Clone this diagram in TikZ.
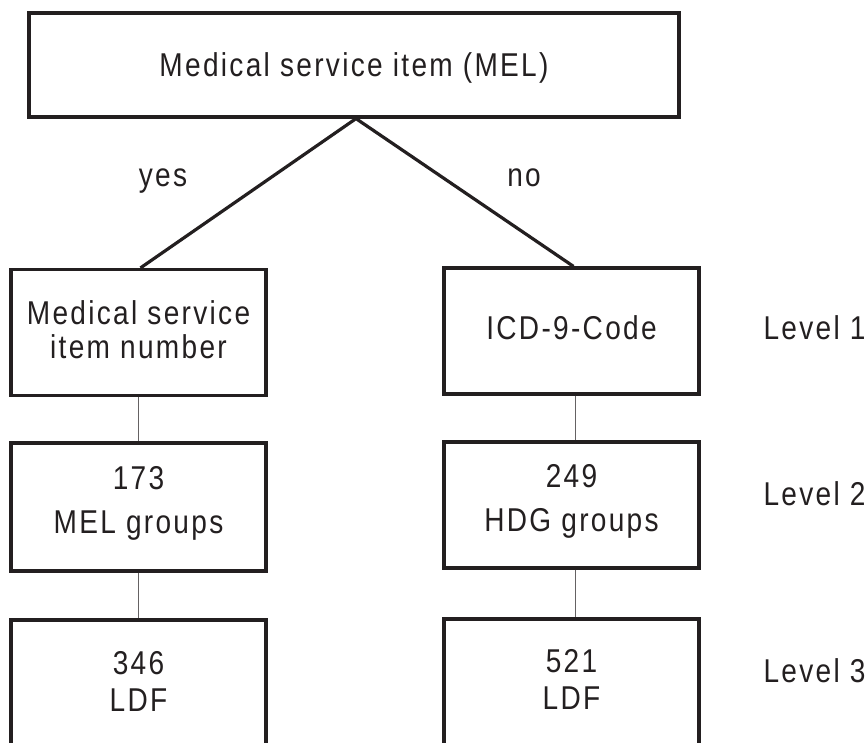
\documentclass[tikz,border=0pt]{standalone}
\usepackage{fontspec}
\setmainfont{Liberation Sans}[FakeStretch=0.85,LetterSpace=7]
\usepackage{tikz}
\definecolor{TreeInk}{RGB}{35,31,32}

\begin{document}
\begin{tikzpicture}[x=1pt,y=-1pt,font=\fontsize{33}{34}\selectfont,text=TreeInk,
  box/.style={draw=TreeInk,line width=3.2pt,minimum width=255pt,minimum height=126pt,inner sep=0pt,align=center,text depth=6pt},
  edge/.style={draw=TreeInk,line width=3.2pt,line join=miter},
  link/.style={draw=TreeInk!70,line width=0.9pt},
  lbl/.style={anchor=base}]
\useasboundingbox (0,0) rectangle (865,742);
\node[box,minimum width=650pt,minimum height=104pt,text depth=0pt](mel) at(354,65) {Medical service item (MEL)};
\node[box](numL) at(138.5,332.5) {Medical service\\item number};
\node[box](icdR) at(571.5,331) {ICD-9-Code};
\node[box,minimum height=128pt,text depth=14pt](grpL) at(138.5,507) {173\\[10pt]MEL groups};
\node[box,text depth=14pt](grpR) at(571.5,505) {249\\[10pt]HDG groups};
\node[box,minimum height=128pt](ldfL) at(138.5,684) {346\\[3pt]LDF};
\node[box](ldfR) at(571.5,682) {521\\[3pt]LDF};
\draw[edge] ([xshift=2pt]numL.north) -- ([xshift=2pt]mel.south) -- ([xshift=2pt]icdR.north);
\node[lbl](yes) at(163,186) {yes};
\node[lbl](no) at(524,186) {no};
\draw[link] (numL) -- (grpL);
\draw[link] (grpL) -- (ldfL);
\draw[link] ([xshift=4pt]icdR.south) -- ([xshift=4pt]grpR.north);
\draw[link] ([xshift=4pt]grpR.south) -- ([xshift=4pt]ldfR.north);
\foreach \n/\y in {1/339,2/505,3/682} {
   \node[lbl,anchor=base west](level\n) at(760,\y) {Level \n};
}
\end{tikzpicture}
\end{document}
